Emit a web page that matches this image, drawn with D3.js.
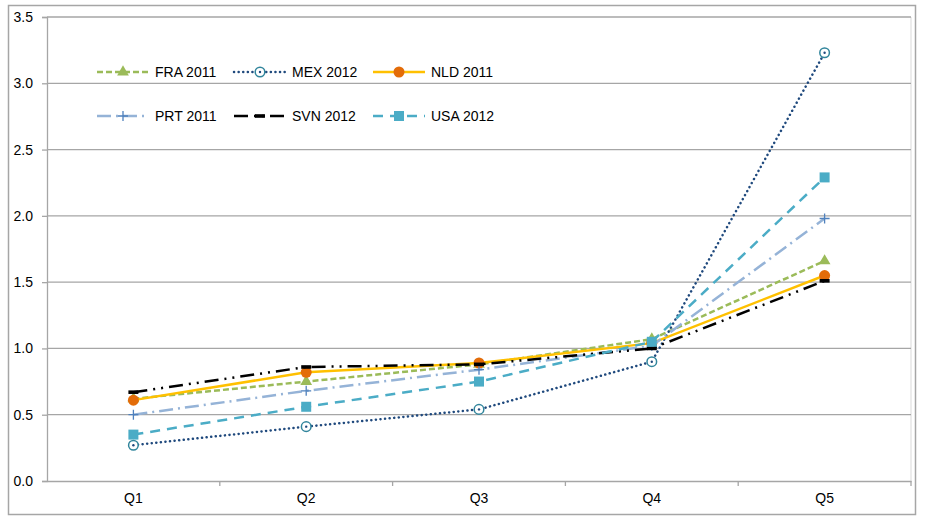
<!DOCTYPE html>
<html>
<head>
<meta charset="utf-8">
<script src="https://cdn.jsdelivr.net/npm/d3@7"></script>
<style>
  body { margin: 0; background: #fff; }
  text { font-family: "Liberation Sans", "DejaVu Sans", sans-serif; }
</style>
</head>
<body>
<svg id="chart" width="925" height="522"></svg>
<script>
// --- data ---
const quintiles = ["Q1", "Q2", "Q3", "Q4", "Q5"];
const yTicks = [0, 0.5, 1, 1.5, 2, 2.5, 3, 3.5];

const fra2011 = [0.62, 0.75, 0.88, 1.07, 1.66];
const mex2012 = [0.27, 0.41, 0.54, 0.90, 3.23];
const nld2011 = [0.61, 0.82, 0.89, 1.04, 1.55];
const prt2011 = [0.50, 0.68, 0.84, 1.02, 1.98];
const svn2012 = [0.67, 0.86, 0.88, 1.00, 1.51];
const usa2012 = [0.35, 0.56, 0.75, 1.05, 2.29];

const series = [
  { name: "FRA 2011", values: fra2011, color: "#9BBB59", dash: "6,3", width: 2.5, cap: "butt", marker: "triangle", mcolor: "#9BBB59" },
  { name: "MEX 2012", values: mex2012, color: "#1F497D", dash: "0.1,4.5", width: 2.5, cap: "round", marker: "ring", mcolor: "#31859C" },
  { name: "NLD 2011", values: nld2011, color: "#FFC000", dash: null, width: 2.5, cap: "butt", marker: "circle", mcolor: "#E36C09" },
  { name: "PRT 2011", values: prt2011, color: "#95B3D7", dash: "14,5,2,5", width: 2.5, cap: "butt", marker: "plus", mcolor: "#4F81BD" },
  { name: "SVN 2012", values: svn2012, color: "#000000", dash: "14,6,2,6,2,6", width: 2.5, cap: "butt", marker: "bar", mcolor: "#000000" },
  { name: "USA 2012", values: usa2012, color: "#4BACC6", dash: "10,7", width: 2.5, cap: "butt", marker: "square", mcolor: "#4BACC6" }
];

const svg = d3.select("#chart");
const margin = { left: 47, right: 14, top: 17, bottom: 41 };
const W = 925, H = 522;

// outer border
svg.append("rect")
  .attr("x", 8.5).attr("y", 5.5)
  .attr("width", 907).attr("height", 509)
  .attr("fill", "none").attr("stroke", "#A6A6A6").attr("stroke-width", 1.5);

const x = d3.scaleBand().domain(quintiles).range([margin.left, W - margin.right]);
const y = d3.scaleLinear().domain([0, 3.5]).range([H - margin.bottom, margin.top]);

// plot area right edge
svg.append("line")
  .attr("x1", W - margin.right).attr("x2", W - margin.right)
  .attr("y1", margin.top).attr("y2", H - margin.bottom)
  .attr("stroke", "#D9D9D9").attr("stroke-width", 1);

// gridlines
svg.append("g")
  .selectAll("line")
  .data(yTicks.filter(d => d > 0))
  .enter().append("line")
    .attr("x1", margin.left).attr("x2", W - margin.right)
    .attr("y1", d => y(d)).attr("y2", d => y(d))
    .attr("stroke", "#A6A6A6").attr("stroke-width", 1.3);

// y axis
const yAxis = svg.append("g")
  .attr("transform", `translate(${margin.left},0)`)
  .call(d3.axisLeft(y).tickValues(yTicks).tickFormat(d3.format(".1f")).tickSize(5).tickPadding(9));
yAxis.select(".domain").attr("stroke", "#A6A6A6").attr("stroke-width", 1.3);
yAxis.selectAll(".tick line").attr("stroke", "#A6A6A6").attr("stroke-width", 1.3);
yAxis.selectAll("text").style("font-size", "14px").attr("fill", "#000");

// x axis
const xAxis = svg.append("g")
  .attr("transform", `translate(0,${y(0)})`)
  .call(d3.axisBottom(x).tickSize(0).tickPadding(12));
xAxis.select(".domain").attr("stroke", "#A6A6A6").attr("stroke-width", 1.3);
xAxis.selectAll("text").style("font-size", "14px").attr("fill", "#000");
// tick marks on category boundaries
xAxis.selectAll("line.bound")
  .data(quintiles)
  .enter().append("line")
    .attr("class", "bound")
    .attr("x1", d => x(d) + x.bandwidth())
    .attr("x2", d => x(d) + x.bandwidth())
    .attr("y1", 0).attr("y2", 5)
    .attr("stroke", "#A6A6A6").attr("stroke-width", 1.3);

// markers
function drawMarker(g, s, cx, cy) {
  if (s.marker === "triangle") {
    g.append("path").attr("d", d3.symbol(d3.symbolTriangle, 60)())
      .attr("transform", `translate(${cx},${cy})`).attr("fill", s.mcolor);
  } else if (s.marker === "ring") {
    g.append("circle").attr("cx", cx).attr("cy", cy).attr("r", 4.8)
      .attr("fill", "#fff").attr("stroke", s.mcolor).attr("stroke-width", 1.5);
    g.append("circle").attr("cx", cx).attr("cy", cy).attr("r", 1.2).attr("fill", s.color);
  } else if (s.marker === "circle") {
    g.append("circle").attr("cx", cx).attr("cy", cy).attr("r", 5.5).attr("fill", s.mcolor);
  } else if (s.marker === "plus") {
    g.append("path").attr("d", `M${cx - 5},${cy}H${cx + 5}M${cx},${cy - 5}V${cy + 5}`)
      .attr("stroke", s.mcolor).attr("stroke-width", 1.3);
  } else if (s.marker === "bar") {
    g.append("rect").attr("x", cx - 5).attr("y", cy - 1.8).attr("width", 10).attr("height", 3.6)
      .attr("fill", s.mcolor);
  } else if (s.marker === "square") {
    g.append("rect").attr("x", cx - 5).attr("y", cy - 5).attr("width", 10).attr("height", 10)
      .attr("fill", s.mcolor);
  }
}

function styleLine(sel, s) {
  sel.attr("fill", "none")
    .attr("stroke", s.color)
    .attr("stroke-width", s.width)
    .attr("stroke-linecap", s.cap)
    .attr("stroke-dasharray", s.dash);
}

const line = d3.line()
  .x((d, i) => x(quintiles[i]) + x.bandwidth() / 2)
  .y(d => y(d));

series.forEach(s => {
  const g = svg.append("g");
  g.append("path").datum(s.values).attr("d", line).call(styleLine, s);
  s.values.forEach((v, i) => drawMarker(g, s, x(quintiles[i]) + x.bandwidth() / 2, y(v)));
});

// legend
const legCols = [97, 234, 373];
const legRows = [72, 116];
series.forEach((s, i) => {
  const lx = legCols[i % 3], ly = legRows[Math.floor(i / 3)];
  const g = svg.append("g");
  g.append("line").attr("x1", lx).attr("x2", lx + 52).attr("y1", ly).attr("y2", ly).call(styleLine, s);
  drawMarker(g, s, lx + 26, ly);
  g.append("text").attr("x", lx + 58).attr("y", ly + 5)
    .style("font-size", "14px").attr("fill", "#000").text(s.name);
});
</script>
</body>
</html>
